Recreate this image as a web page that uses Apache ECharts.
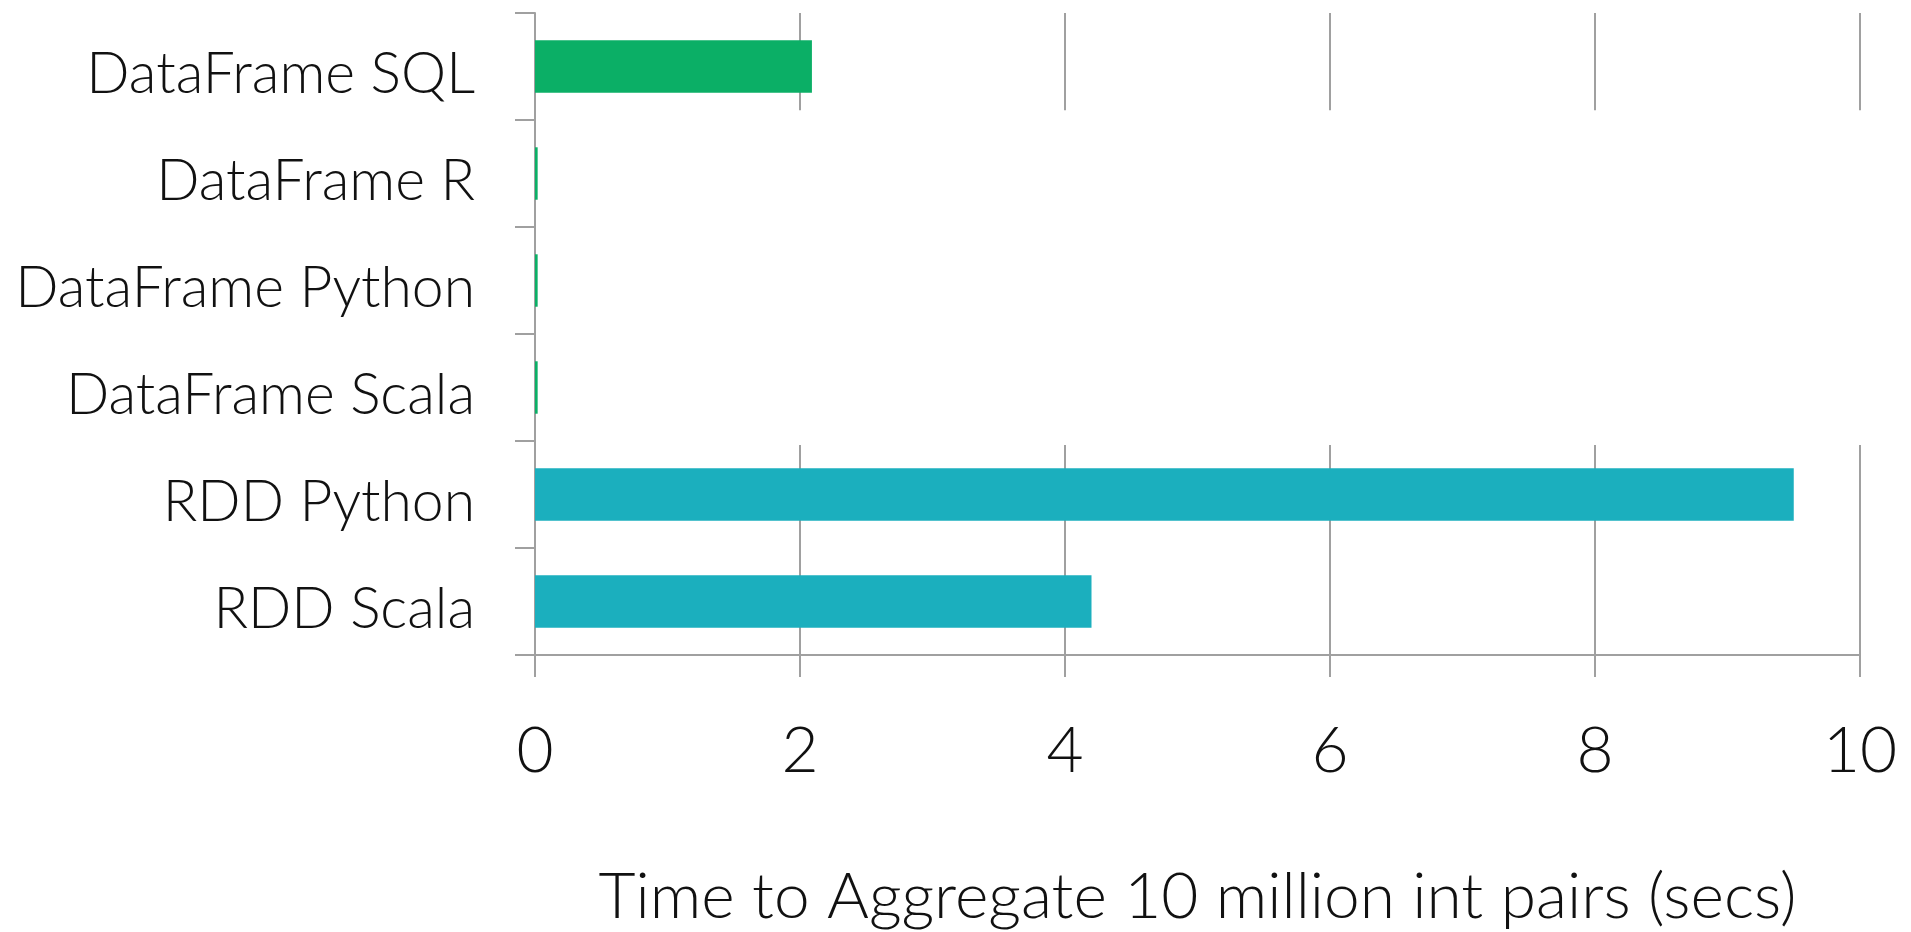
<!DOCTYPE html>
<html>
<head>
<meta charset="utf-8">
<script src="https://cdn.jsdelivr.net/npm/echarts@6/dist/echarts.min.js"></script>
<style>
html,body{margin:0;padding:0;background:#fff;}
#chart{width:1911px;height:932px;}
</style>
</head>
<body>
<div id="chart"></div>
<script>
// Data (top to bottom)
var categories = ['DataFrame SQL', 'DataFrame R', 'DataFrame Python', 'DataFrame Scala', 'RDD Python', 'RDD Scala'];
var times = [2.09, 0.02, 0.02, 0.02, 9.5, 4.2];
var barColors = ['#0BAF66', '#0BAF66', '#0BAF66', '#0BAF66', '#1BAFBE', '#1BAFBE'];
var xTicks = [0, 2, 4, 6, 8, 10];
var axisTitle = 'Time to Aggregate 10 million int pairs (secs)';
var gridTicks = [2, 4, 6, 8, 10];

var FONT = 'Lato';
var GREY = '#A0A0A0';

var chart = echarts.init(document.getElementById('chart'));
chart.setOption({
  animation: false,
  backgroundColor: '#fff',
  grid: { left: 535, right: 51, top: 13, bottom: 277, containLabel: false, outerBoundsMode: 'none' },
  xAxis: {
    type: 'value',
    min: xTicks[0], max: xTicks[xTicks.length - 1], interval: 2,
    axisLine: { show: true, lineStyle: { color: GREY, width: 2 } },
    axisTick: { show: true, length: 22, lineStyle: { color: GREY, width: 2 } },
    splitLine: { show: false },
    axisLabel: { color: '#111', fontFamily: FONT, fontWeight: 300, fontSize: 64, margin: 64 },
    name: axisTitle,
    nameLocation: 'middle',
    nameGap: 210,
    nameTextStyle: { color: '#111', fontFamily: FONT, fontWeight: 300, fontSize: 64 }
  },
  yAxis: {
    type: 'category',
    inverse: true,
    data: categories,
    axisLine: { show: true, lineStyle: { color: GREY, width: 2 } },
    axisTick: { show: true, length: 20, lineStyle: { color: GREY, width: 2 } },
    splitLine: { show: false },
    axisLabel: { color: '#111', fontFamily: FONT, fontWeight: 300, fontSize: 57, margin: 60, verticalAlign: 'top', lineHeight: 16 }
  },
  series: [
    {
      type: 'custom',
      silent: true,
      z: 1,
      data: gridTicks.map(function (v) { return [v, 0]; }),
      renderItem: function (params, api) {
        var v = api.value(0);
        var bandH = api.size([0, 1])[1];
        var top = api.coord([v, 0]);
        var rp = api.coord([v, 4]);
        var rs = api.coord([v, 5]);
        var style = { stroke: GREY, lineWidth: 2 };
        return {
          type: 'group',
          children: [
            { type: 'line', shape: { x1: top[0], y1: top[1] - bandH / 2, x2: top[0], y2: top[1] + bandH * 0.41 }, style: style },
            { type: 'line', shape: { x1: rp[0], y1: rp[1] - bandH / 2 + 4, x2: rs[0], y2: rs[1] + bandH / 2 }, style: style }
          ]
        };
      }
    },
    {
      type: 'bar',
      z: 2,
      barWidth: '49%',
      data: times.map(function (t, i) { return { value: t, itemStyle: { color: barColors[i] } }; })
    }
  ]
});
</script>
</body>
</html>
